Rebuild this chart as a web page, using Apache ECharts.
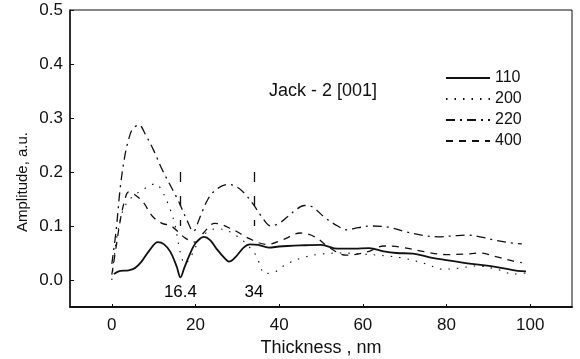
<!DOCTYPE html>
<html>
<head>
<meta charset="utf-8">
<script src="https://cdn.jsdelivr.net/npm/echarts@6/dist/echarts.min.js"></script>
<style>
  html, body { margin: 0; padding: 0; background: #fff; }
  #chart { width: 580px; height: 359px; }
</style>
</head>
<body>
<div id="chart"></div>
<script>
// axis ticks
const xTicks = [0, 20, 40, 60, 80, 100]
const yTicks = [0, 0.1, 0.2, 0.3, 0.4, 0.5]

// 110 (solid)
const t110 = [0.5, 2, 4, 5.5, 7, 9, 11, 12.5, 14, 15.5, 16.4, 17.3, 18.5, 20, 22, 23.5, 25, 27, 28, 29.5, 31.5, 33, 35, 37.5, 40, 42, 45, 50, 54, 58, 61.5, 65, 68, 72, 76, 80, 86, 92, 97, 99]
const a110 = [0.011, 0.017, 0.018, 0.022, 0.033, 0.055, 0.070, 0.066, 0.052, 0.025, 0.005, 0.022, 0.045, 0.068, 0.080, 0.074, 0.058, 0.040, 0.034, 0.042, 0.060, 0.066, 0.065, 0.060, 0.062, 0.063, 0.064, 0.065, 0.058, 0.058, 0.059, 0.053, 0.050, 0.049, 0.042, 0.037, 0.030, 0.024, 0.017, 0.016]

// 200 (dotted)
const t200 = [0, 1, 2, 3, 5, 7, 9, 10.5, 12, 13.5, 15, 16.4, 17.5, 19, 21, 23, 25, 28, 31, 33, 34.5, 36.7, 39, 41, 45, 50, 55, 60, 65, 70, 75, 79, 83, 87, 92, 96, 99]
const a200 = [0.0, 0.07, 0.11, 0.135, 0.155, 0.165, 0.175, 0.178, 0.165, 0.14, 0.105, 0.05, 0.03, 0.045, 0.075, 0.09, 0.095, 0.09, 0.075, 0.06, 0.045, 0.012, 0.015, 0.026, 0.04, 0.048, 0.05, 0.048, 0.045, 0.04, 0.03, 0.02, 0.022, 0.026, 0.02, 0.011, 0.013]

// 220 (dash-dot)
const t220 = [0, 1, 2, 3, 4, 5, 6.5, 8, 10, 12, 14, 16, 18, 19.5, 21, 23, 25, 28, 30, 32, 34, 36, 38, 40, 42, 44, 46, 48, 51, 54, 56, 59, 62, 66, 70, 74, 78, 82, 85, 88, 92, 96, 98]
const a220 = [0.03, 0.09, 0.17, 0.225, 0.26, 0.28, 0.287, 0.27, 0.24, 0.205, 0.175, 0.145, 0.11, 0.09, 0.115, 0.15, 0.168, 0.177, 0.172, 0.158, 0.138, 0.115, 0.1, 0.105, 0.117, 0.13, 0.138, 0.135, 0.115, 0.1, 0.093, 0.097, 0.1, 0.098, 0.09, 0.083, 0.08, 0.082, 0.083, 0.08, 0.073, 0.068, 0.067]

// 400 (dashed)
const t400 = [0, 1, 2, 3, 4, 5.5, 7.5, 9.7, 12, 14.2, 17.5, 20, 22, 24.6, 29, 33, 37, 41, 45, 48.5, 52, 56, 61, 65, 69, 75, 80, 84.5, 88, 92, 96, 98]
const a400 = [0.01, 0.06, 0.11, 0.145, 0.163, 0.158, 0.144, 0.118, 0.105, 0.1, 0.078, 0.07, 0.088, 0.105, 0.093, 0.076, 0.066, 0.075, 0.087, 0.08, 0.06, 0.046, 0.052, 0.063, 0.061, 0.052, 0.047, 0.048, 0.05, 0.043, 0.035, 0.032]

// marked thicknesses
const markX = [16.4, 34]
const markLabels = ['16.4', '34']

const pairs = (xs, ys) => xs.map((x, i) => [x, ys[i]])
const ink = '#111'
const font = '"Liberation Sans", Arial, sans-serif'

const chart = echarts.init(document.getElementById('chart'))

chart.setOption({
  animation: false,
  textStyle: { fontFamily: font, color: ink },
  title: {
    text: 'Jack - 2 [001]',
    left: 264, top: 77,
    textStyle: { fontFamily: font, fontSize: 18, fontWeight: 'normal', color: ink }
  },
  legend: {
    orient: 'vertical',
    left: 440, top: 65,
    itemWidth: 44, itemHeight: 14, itemGap: 5,
    itemStyle: { opacity: 0 },
    textStyle: { fontFamily: font, fontSize: 16, color: ink },
    data: ['110', '200', '220', '400']
  },
  grid: {
    left: 70, right: 8, top: 10, bottom: 52,
    outerBoundsMode: 'none',
    show: true, borderColor: ink, borderWidth: 1
  },
  xAxis: {
    type: 'value', min: -10, max: 110,
    name: 'Thickness , nm', nameLocation: 'middle', nameGap: 32,
    nameTextStyle: { fontFamily: font, fontSize: 18, color: ink },
    axisLine: { onZero: false, lineStyle: { color: ink, width: 2 } },
    axisTick: { inside: true, length: 3, customValues: xTicks, lineStyle: { color: ink } },
    axisLabel: { customValues: xTicks, margin: 10, fontFamily: font, fontSize: 17, color: ink },
    splitLine: { show: false }
  },
  yAxis: {
    type: 'value', min: -0.05, max: 0.5,
    axisLine: { show: true, onZero: false, lineStyle: { color: ink, width: 1.5 } },
    axisTick: { show: true, inside: true, length: 4, customValues: yTicks, lineStyle: { color: ink } },
    axisLabel: {
      customValues: yTicks, margin: 7, fontFamily: font, fontSize: 17, color: ink,
      formatter: v => v.toFixed(1)
    },
    splitLine: { show: false }
  },
  graphic: [{
    type: 'text', x: 23, y: 182, rotation: Math.PI / 2,
    style: {
      text: 'Amplitude, a.u.', font: '15px ' + font, fill: ink,
      textAlign: 'center', textVerticalAlign: 'middle'
    }
  }],
  series: [
    {
      name: '110', type: 'line', symbol: 'none', smooth: 0.35,
      lineStyle: { color: ink, width: 1.8 },
      itemStyle: { color: ink },
      data: pairs(t110, a110)
    },
    {
      name: '200', type: 'line', symbol: 'none', smooth: 0.35,
      lineStyle: { color: ink, width: 1.1, type: [1.5, 7] },
      itemStyle: { color: ink },
      data: pairs(t200, a200)
    },
    {
      name: '220', type: 'line', symbol: 'none', smooth: 0.35,
      lineStyle: { color: ink, width: 1.3, type: [9, 5, 2, 5] },
      itemStyle: { color: ink },
      data: pairs(t220, a220),
      markLine: {
        silent: true, symbol: 'none', label: { show: false },
        lineStyle: { color: ink, width: 1.3, type: [10, 14] },
        data: markX.map(x => [{ coord: [x, 0.2] }, { coord: [x, 0.1] }])
      }
    },
    {
      name: '400', type: 'line', symbol: 'none', smooth: 0.35,
      lineStyle: { color: ink, width: 1.3, type: [7, 6] },
      itemStyle: { color: ink },
      data: pairs(t400, a400)
    },
    {
      name: 'marks', type: 'scatter', symbolSize: 0, silent: true,
      itemStyle: { color: ink, opacity: 1 },
      label: {
        show: true, position: 'inside', fontFamily: font, fontSize: 17, color: '#000',
        opacity: 1, textBorderWidth: 0,
        formatter: p => markLabels[p.dataIndex]
      },
      data: markX.map(x => [x, -0.022])
    }
  ]
})
</script>
</body>
</html>
